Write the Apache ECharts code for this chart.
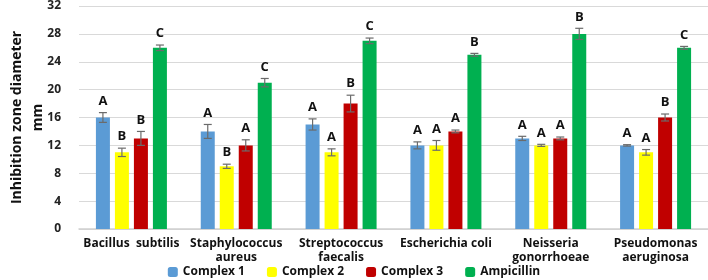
<!DOCTYPE html>
<html>
<head>
<meta charset="utf-8">
<script src="https://cdn.jsdelivr.net/npm/echarts@6/dist/echarts.min.js"></script>
<style>
  html, body { margin: 0; padding: 0; background: #fff; }
  #ec { width: 708px; height: 280px; }
</style>
</head>
<body>
<div id="ec"></div>
<script>
var categories = ["Bacillus  subtilis", "Staphylococcus\naureus", "Streptococcus\nfaecalis", "Escherichia coli", "Neisseria\ngonorrhoeae", "Pseudomonas\naeruginosa"];
var seriesNames = ["Complex 1", "Complex 2", "Complex 3", "Ampicillin"];
var complex1 = [16, 14, 15, 12, 13, 12];
var complex2 = [11, 9, 11, 12, 12, 11];
var complex3 = [13, 12, 18, 14, 13, 16];
var ampicillin = [26, 21, 27, 25, 28, 26];
var err1 = [0.7, 1.0, 0.8, 0.5, 0.3, 0.1];
var err2 = [0.6, 0.3, 0.5, 0.7, 0.15, 0.4];
var err3 = [1.0, 0.8, 1.2, 0.2, 0.2, 0.5];
var errAmp = [0.4, 0.6, 0.4, 0.2, 0.8, 0.2];
var letters1 = ["A", "A", "A", "A", "A", "A"];
var letters2 = ["B", "B", "A", "A", "A", "A"];
var letters3 = ["B", "A", "B", "A", "A", "B"];
var lettersAmp = ["C", "C", "C", "B", "B", "C"];
var yTicks = [0, 4, 8, 12, 16, 20, 24, 28, 32];

var colors = ["#5B9BD5", "#FFFF00", "#C00000", "#00B050"];
var values = [complex1, complex2, complex3, ampicillin];
var errors = [err1, err2, err3, errAmp];
var letters = [letters1, letters2, letters3, lettersAmp];
var font = "Open Sans";
var barW = 14;
var gapW = 5;

var myChart = echarts.init(document.getElementById("ec"));

var series = [];
values.forEach(function (vals, s) {
  series.push({
    name: seriesNames[s],
    type: "bar",
    data: vals,
    barWidth: barW,
    barGap: (gapW / barW * 100) + "%",
    itemStyle: { color: colors[s] },
  });
});

// error bars + significance letters
values.forEach(function (vals, s) {
  var data = vals.map(function (v, i) {
    return [i, v, errors[s][i], letters[s][i]];
  });
  series.push({
    type: "custom",
    name: seriesNames[s] + " err",
    data: data,
    z: 5,
    renderItem: function (params, api) {
      var i = api.value(0);
      var v = api.value(1);
      var e = api.value(2);
      var total = 4 * barW + 3 * gapW;
      var off = -total / 2 + barW / 2 + s * (barW + gapW);
      var c = api.coord([i, v]);
      var x = c[0] + off;
      var top = api.coord([i, v + e])[1];
      var bot = api.coord([i, v - e])[1];
      var hw = 4;
      var st = { stroke: "#6b6b6b", lineWidth: 1.2 };
      return {
        type: "group",
        children: [
          { type: "line", shape: { x1: x, y1: top, x2: x, y2: bot }, style: st },
          { type: "line", shape: { x1: x - hw, y1: top, x2: x + hw, y2: top }, style: st },
          { type: "line", shape: { x1: x - hw, y1: bot, x2: x + hw, y2: bot }, style: st },
          {
            type: "text",
            style: {
              text: letters[s][i],
              x: x,
              y: top - 5,
              align: "center",
              verticalAlign: "bottom",
              fill: "#111",
              font: "bold 13px '" + font + "'",
            },
          },
        ],
      };
    },
  });
});

myChart.setOption({
  animation: false,
  textStyle: { fontFamily: font },
  legend: {
    data: seriesNames,
    bottom: -3,
    left: "center",
    itemWidth: 10,
    itemHeight: 10,
    itemGap: 22,
    textStyle: { fontWeight: "bold", fontSize: 12, color: "#111", fontFamily: font },
  },
  grid: {
    left: 79,
    right: 0,
    top: 6,
    bottom: 51,
    outerBoundsMode: "none",
  },
  xAxis: {
    type: "category",
    data: categories,
    axisTick: { show: false },
    axisLine: { lineStyle: { color: "#d0d0d0", width: 1.5 } },
    axisLabel: {
      interval: 0,
      fontWeight: "bold",
      fontSize: 12,
      color: "#111",
      lineHeight: 14,
      margin: 8,
      fontFamily: font,
    },
  },
  yAxis: {
    type: "value",
    min: yTicks[0],
    max: yTicks[yTicks.length - 1],
    interval: 4,
    name: "Inhibition zone diameter\nmm",
    nameLocation: "middle",
    nameGap: 30,
    nameMoveOverlap: false,
    nameTextStyle: { fontWeight: "bold", fontSize: 14, color: "#111", lineHeight: 21, fontFamily: font },
    axisLine: { show: false },
    axisTick: { show: false },
    axisLabel: { fontWeight: "bold", fontSize: 12, color: "#222", margin: 18, fontFamily: font },
    splitLine: { lineStyle: { color: "#d9d9d9", width: 1.2 } },
  },
  series: series,
});
</script>
</body>
</html>
